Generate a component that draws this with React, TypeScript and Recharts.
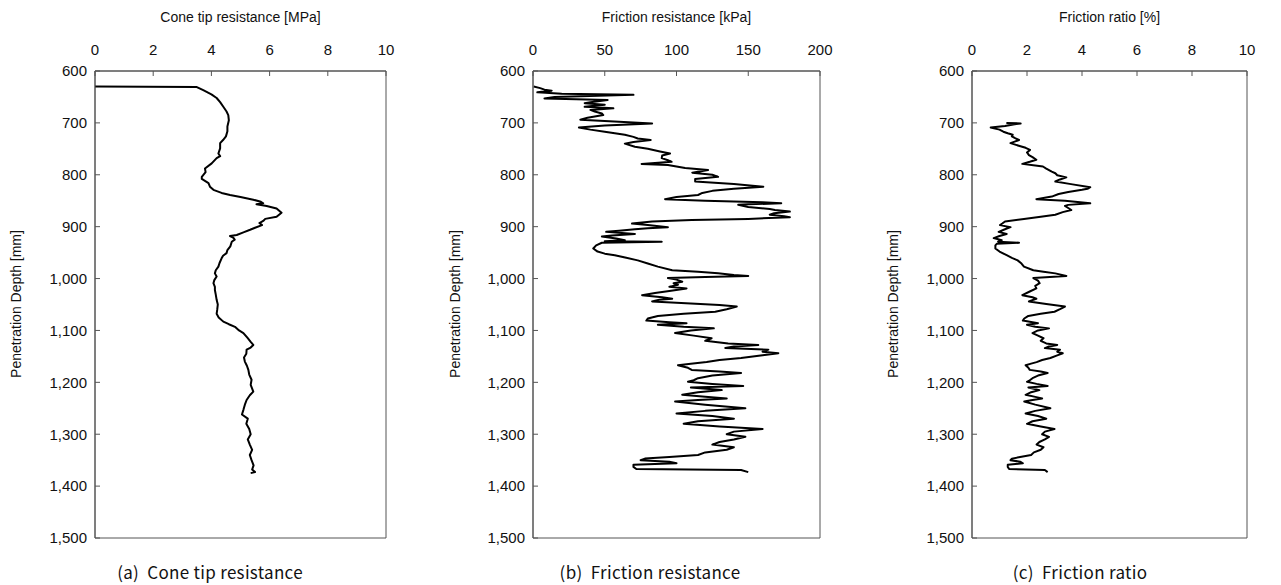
import React from 'react';
import { LineChart, Line, XAxis, YAxis, ReferenceArea } from 'recharts';

// depth ticks shared by all three panels
const DEPTH_TICKS = [600, 700, 800, 900, 1000, 1100, 1200, 1300, 1400, 1500];

// (a) cone tip resistance [MPa]
const qcDepth = [630, 631, 637, 645, 652, 660, 669, 678, 685, 695, 707, 716, 726, 733, 739, 749, 759, 764, 768, 778, 788, 795, 804, 808, 816, 823, 829, 835, 839, 843, 848, 852, 855, 857, 860, 865, 873, 881, 885, 889, 893, 897, 902, 906, 911, 916, 918, 921, 925, 929, 938, 945, 951, 956, 961, 970, 977, 984, 990, 996, 1003, 1009, 1016, 1022, 1031, 1041, 1050, 1060, 1068, 1075, 1083, 1088, 1093, 1100, 1105, 1115, 1122, 1128, 1133, 1137, 1145, 1152, 1160, 1168, 1176, 1185, 1195, 1205, 1212, 1218, 1225, 1234, 1243, 1253, 1262, 1270, 1280, 1290, 1300, 1310, 1320, 1330, 1340, 1350, 1360, 1368, 1373, 1375];
const qcValue = [0, 3.5, 3.72, 4.0, 4.18, 4.3, 4.41, 4.52, 4.58, 4.6, 4.55, 4.55, 4.5, 4.4, 4.3, 4.3, 4.24, 4.3, 4.18, 4.01, 3.78, 3.8, 3.67, 3.67, 3.9, 3.95, 4.07, 4.35, 4.64, 5.0, 5.44, 5.7, 5.78, 5.55, 5.9, 6.24, 6.41, 6.24, 5.85, 5.78, 5.65, 5.74, 5.5, 5.33, 5.1, 4.87, 4.64, 4.75, 4.8, 4.7, 4.65, 4.55, 4.52, 4.4, 4.35, 4.28, 4.24, 4.15, 4.12, 4.18, 4.1, 4.07, 4.12, 4.12, 4.15, 4.18, 4.22, 4.2, 4.18, 4.25, 4.41, 4.6, 4.81, 4.95, 5.1, 5.25, 5.35, 5.44, 5.35, 5.21, 5.2, 5.12, 5.15, 5.22, 5.27, 5.3, 5.38, 5.35, 5.4, 5.44, 5.32, 5.21, 5.15, 5.1, 5.05, 5.25, 5.2, 5.3, 5.35, 5.25, 5.32, 5.4, 5.32, 5.38, 5.45, 5.4, 5.5, 5.35];

// (b) friction resistance [kPa]
const fsDepth = [630, 633, 636, 638, 641, 644, 646, 650, 653, 656, 660, 662, 665, 669, 672, 675, 678, 682, 685, 690, 694, 698, 701, 705, 709, 713, 717, 723, 727, 730, 733, 737, 740, 746, 750, 755, 759, 763, 768, 772, 775, 779, 781, 787, 791, 796, 800, 804, 808, 813, 818, 823, 827, 831, 835, 839, 843, 847, 850, 853, 855, 857, 858, 862, 866, 868, 871, 874, 877, 880, 882, 885, 887, 890, 894, 897, 901, 903, 905, 908, 910, 912, 914, 917, 919, 923, 926, 928, 929, 931, 936, 942, 948, 952, 955, 960, 965, 971, 977, 984, 987, 990, 993, 995, 997, 999, 1002, 1006, 1009, 1012, 1016, 1019, 1024, 1028, 1032, 1036, 1039, 1041, 1044, 1048, 1051, 1054, 1059, 1064, 1068, 1072, 1077, 1081, 1084, 1086, 1089, 1093, 1096, 1100, 1105, 1110, 1115, 1120, 1125, 1128, 1131, 1134, 1137, 1141, 1144, 1148, 1153, 1157, 1161, 1164, 1167, 1172, 1176, 1179, 1182, 1187, 1192, 1196, 1199, 1203, 1207, 1210, 1215, 1219, 1224, 1228, 1231, 1234, 1237, 1243, 1250, 1255, 1260, 1265, 1270, 1275, 1280, 1285, 1290, 1295, 1300, 1305, 1310, 1315, 1320, 1325, 1330, 1335, 1340, 1344, 1347, 1350, 1353, 1356, 1359, 1363, 1367, 1369, 1373];
const fsValue = [0.5, 5, 8, 13, 3, 20, 70, 15, 8, 52, 40, 36, 50, 36, 56, 40, 43, 48, 49, 38, 33, 60, 83, 50, 32, 40, 50, 64, 70, 73, 82, 70, 64, 71, 80, 88.5, 95.5, 90, 89.7, 94, 96.6, 75.7, 94, 106, 122, 111, 125, 129, 113, 113, 140, 160.5, 140, 125, 118, 115, 100, 92, 120, 160, 173, 150, 143, 150, 165, 168.6, 179, 168, 165, 175, 179, 150, 110.6, 83, 69, 80, 94, 80, 71, 60, 51, 62, 71, 55, 48, 58, 64, 50, 89.7, 48, 44, 42, 45, 50, 57, 65, 73, 80, 87, 97, 115, 129, 140, 150, 120, 94, 100, 104, 98, 101, 95, 107, 95, 85, 76, 90, 97, 88, 83, 110, 130, 142, 135, 127, 105, 87, 80, 79, 95, 107, 87, 105, 126, 110, 99, 112, 124.5, 120, 136, 157, 140, 134, 164, 160, 171, 160, 145, 130, 121, 110, 101, 108, 110.6, 130, 145, 125, 115, 112, 108, 125, 146.5, 110, 131.5, 115, 104, 120, 135, 115, 99, 120, 148, 120, 100, 125, 140, 115, 105, 130, 160, 140, 135, 148, 140, 130, 125, 140, 135, 120, 115, 95, 78, 75, 95, 100, 70, 70, 72, 145, 150];

// (c) friction ratio [%]
const rfDepth = [700, 701, 703, 706, 709, 713, 717, 720, 723, 726, 729, 733, 736, 739, 744, 748, 752, 757, 762, 766, 771, 775, 779, 782, 784, 788, 791, 794, 797, 801, 805, 809, 813, 818, 824, 827, 829, 833, 837, 842, 847, 850, 855, 858, 860, 864, 868, 872, 877, 881, 885, 890, 894, 897, 901, 905, 910, 914, 918, 922, 926, 929, 931, 933, 936, 942, 948, 955, 960, 965, 971, 977, 984, 987, 990, 995, 999, 1004, 1009, 1014, 1019, 1025, 1032, 1036, 1039, 1044, 1049, 1054, 1059, 1064, 1068, 1072, 1077, 1081, 1086, 1089, 1093, 1096, 1100, 1105, 1110, 1115, 1120, 1125, 1128, 1131, 1134, 1137, 1141, 1144, 1148, 1153, 1157, 1161, 1164, 1167, 1172, 1176, 1179, 1182, 1187, 1192, 1196, 1199, 1203, 1207, 1210, 1215, 1219, 1224, 1228, 1231, 1234, 1237, 1243, 1250, 1255, 1260, 1265, 1270, 1275, 1280, 1285, 1290, 1295, 1300, 1305, 1310, 1315, 1320, 1325, 1330, 1335, 1340, 1344, 1347, 1350, 1353, 1356, 1359, 1363, 1367, 1369, 1373];
const rfValue = [1.25, 1.77, 1.5, 1.2, 0.68, 1.0, 1.14, 1.3, 1.48, 1.45, 1.55, 1.71, 1.55, 1.4, 1.7, 1.95, 2.11, 2.0, 2.07, 2.2, 2.34, 2.1, 1.83, 2.3, 2.58, 2.7, 2.8, 2.9, 3.03, 3.1, 3.43, 3.2, 3.03, 3.6, 4.3, 4.2, 4.0, 3.5, 3.15, 2.9, 2.34, 3.38, 4.3, 3.5, 3.38, 3.5, 3.61, 3.3, 3.03, 2.5, 1.89, 1.2, 1.1, 1.02, 1.4, 1.2, 0.97, 1.26, 1.0, 0.79, 1.08, 0.95, 1.71, 0.9, 0.85, 0.85, 1.0, 1.26, 1.45, 1.66, 1.8, 1.89, 2.23, 2.6, 3.03, 3.43, 2.23, 2.4, 2.46, 2.3, 2.34, 2.1, 1.83, 2.2, 2.34, 2.07, 2.7, 3.38, 3.2, 3.0, 2.5, 2.05, 1.9, 1.85, 2.4, 2.0, 2.3, 2.8, 2.4, 2.2, 2.4, 2.6, 2.5, 2.7, 3.1, 2.8, 2.65, 3.2, 3.1, 3.3, 3.1, 2.85, 2.55, 2.35, 2.15, 1.95, 2.05, 2.1, 2.5, 2.75, 2.4, 2.2, 2.1, 2.0, 2.35, 2.75, 2.05, 2.45, 2.15, 1.95, 2.3, 2.55, 2.2, 1.9, 2.3, 2.85, 2.3, 1.95, 2.4, 2.7, 2.2, 2.0, 2.5, 3.0, 2.65, 2.55, 2.8, 2.65, 2.45, 2.35, 2.6, 2.5, 2.25, 2.15, 1.75, 1.45, 1.4, 1.75, 1.85, 1.3, 1.3, 1.35, 2.65, 2.75];

const FONT = '"Liberation Sans", Arial, sans-serif';
const AXIS_COLOR = '#555';

const toRows = (depth: number[], value: number[]) =>
  depth.map((d, i) => ({ depth: d, value: value[i] }));

interface PanelProps {
  left: number;
  width: number;
  rows: { depth: number; value: number }[];
  xMax: number;
  xTicks: number[];
  title: string;
  yTitleX: number;
  caption: string;
  captionX: number;
}

function Panel({ left, width, rows, xMax, xTicks, title, yTitleX, caption, captionX }: PanelProps) {
  const plotLeft = left + 95;
  const plotRight = left + width - 34;
  const center = (plotLeft + plotRight) / 2;
  return (
    <>
      <div style={{ position: 'absolute', left: left, top: 0 }}>
        <LineChart
          width={width}
          height={585}
          layout="vertical"
          data={rows}
          margin={{ top: 36, right: 34, bottom: 47, left: 35 }}
        >
          <XAxis
            type="number"
            orientation="top"
            dataKey="value"
            domain={[0, xMax]}
            ticks={xTicks}
            interval={0}
            height={35}
            tickSize={-5}
            tickMargin={21}
            stroke={AXIS_COLOR}
            tick={{ fill: '#111', fontSize: 15, fontFamily: FONT }}
          />
          <YAxis
            type="number"
            dataKey="depth"
            domain={[600, 1500]}
            ticks={DEPTH_TICKS}
            interval={0}
            width={60}
            tickSize={-5}
            tickMargin={13}
            stroke={AXIS_COLOR}
            tickFormatter={(v: number) => v.toLocaleString('en-US')}
            tick={{ fill: '#111', fontSize: 15, fontFamily: FONT }}
          />
          <ReferenceArea x1={0} x2={xMax} y1={600} y2={1500} fill="none" stroke={AXIS_COLOR} strokeWidth={1} />
          <Line
            type="linear"
            dataKey="value"
            stroke="#000"
            strokeWidth={2}
            strokeLinejoin="round"
            dot={false}
            isAnimationActive={false}
          />
        </LineChart>
      </div>
      <div
        style={{
          position: 'absolute',
          left: center,
          top: 9,
          transform: 'translateX(-50%)',
          whiteSpace: 'nowrap',
          fontFamily: FONT,
          fontSize: 14,
          color: '#111',
        }}
      >
        {title}
      </div>
      <div
        style={{
          position: 'absolute',
          left: yTitleX,
          top: 304,
          transform: 'translate(-50%, -50%) rotate(-90deg)',
          whiteSpace: 'nowrap',
          fontFamily: FONT,
          fontSize: 14,
          color: '#111',
        }}
      >
        Penetration Depth [mm]
      </div>
      <div
        style={{
          position: 'absolute',
          left: captionX,
          top: 559,
          transform: 'translateX(-50%)',
          whiteSpace: 'pre',
          fontFamily: '"Noto Sans CJK KR", "Noto Sans", sans-serif',
          fontSize: 17,
          letterSpacing: 0.3,
          color: '#111',
        }}
      >
        {caption}
      </div>
    </>
  );
}

export default function App() {
  return (
    <div style={{ position: 'absolute', left: 0, top: 0, width: 1281, height: 585, background: '#fff' }}>
      <Panel
        left={0}
        width={420}
        rows={toRows(qcDepth, qcValue)}
        xMax={10}
        xTicks={[0, 2, 4, 6, 8, 10]}
        title="Cone tip resistance [MPa]"
        yTitleX={16}
        caption="(a)  Cone tip resistance"
        captionX={210}
      />
      <Panel
        left={438}
        width={416}
        rows={toRows(fsDepth, fsValue)}
        xMax={200}
        xTicks={[0, 50, 100, 150, 200]}
        title="Friction resistance [kPa]"
        yTitleX={455}
        caption="(b)  Friction resistance"
        captionX={650}
      />
      <Panel
        left={877}
        width={404}
        rows={toRows(rfDepth, rfValue)}
        xMax={10}
        xTicks={[0, 2, 4, 6, 8, 10]}
        title="Friction ratio [%]"
        yTitleX={893}
        caption="(c)  Friction ratio"
        captionX={1080}
      />
    </div>
  );
}
